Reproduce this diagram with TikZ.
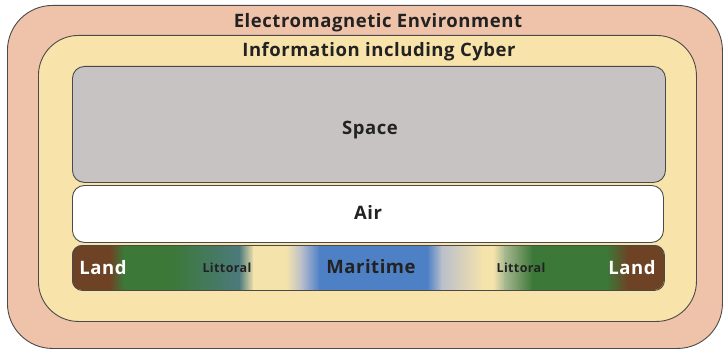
\documentclass[tikz,border=0pt]{standalone}
\usepackage{fontspec}
\setmainfont{Open Sans}
\definecolor{emcol}{HTML}{EFC2AA}
\definecolor{infocol}{HTML}{F8E3AA}
\definecolor{spacecol}{HTML}{C7C3C3}
\definecolor{edgecol}{HTML}{4A4A4A}
\definecolor{brownc}{HTML}{6E4325}
\definecolor{greenc}{HTML}{3C7838}
\definecolor{tealc}{HTML}{4C7A7C}
\definecolor{beigec}{HTML}{F5E3AC}
\definecolor{bluec}{HTML}{4E80C6}
\definecolor{greyblue}{HTML}{B9BFCB}
\definecolor{lgreen}{HTML}{A8B890}
\definecolor{txtc}{HTML}{222222}
\begin{document}
\begin{tikzpicture}[x=1pt,y=-1pt,
  frame/.style={draw=edgecol,line width=0.9pt},
  lbl/.style={font=\bfseries\fontsize{18.5}{20}\selectfont\addfontfeature{LetterSpace=3},text=txtc,inner sep=0pt,anchor=base},
  smalllbl/.style={font=\bfseries\fontsize{12.5}{14}\selectfont\addfontfeature{LetterSpace=3},text=txtc,inner sep=0pt,anchor=base},
  landlbl/.style={lbl,text=white}]
\useasboundingbox (0,0) rectangle (726,353);
% outer
\node[frame,fill=emcol,rounded corners=45pt,minimum width=715pt,minimum height=343pt,anchor=north west,inner sep=0pt] (em) at (7,5) {};
\node[frame,fill=infocol,rounded corners=40pt,minimum width=658pt,minimum height=286pt,anchor=north west,inner sep=0pt] (info) at (38,35) {};
\node[frame,fill=spacecol,rounded corners=12pt,minimum width=593pt,minimum height=116pt,anchor=north west,inner sep=0pt] (space) at (72,66) {};
\node[frame,fill=white,rounded corners=12pt,minimum width=591pt,minimum height=57pt,anchor=north west,inner sep=0pt] (air) at (72,185) {};
% strip
\begin{scope}
\clip[rounded corners=10pt] (72,245) rectangle (664,290);
\fill[brownc] (72,245) rectangle (111,290);
\shade[left color=brownc,right color=greenc] (110,245) rectangle (124,290);
\fill[greenc] (123,245) rectangle (172,290);
\shade[left color=greenc,right color=tealc] (171,245) rectangle (240,290);
\shade[left color=tealc,right color=beigec] (239,245) rectangle (254,290);
\fill[beigec] (253,245) rectangle (287,290);
\shade[left color=beigec,right color=greyblue] (286,245) rectangle (302,290);
\shade[left color=greyblue,right color=bluec] (301,245) rectangle (320,290);
\fill[bluec] (319,245) rectangle (428,290);
\shade[left color=bluec,right color=greyblue] (427,245) rectangle (442,290);
\shade[left color=greyblue,right color=beigec] (441,245) rectangle (483,290);
\fill[beigec] (482,245) rectangle (494,290);
\shade[left color=beigec,right color=lgreen] (493,245) rectangle (505,290);
\shade[left color=lgreen,right color=greenc] (504,245) rectangle (533,290);
\fill[greenc] (532,245) rectangle (608,290);
\shade[left color=greenc,right color=brownc] (607,245) rectangle (628,290);
\fill[brownc] (627,245) rectangle (664,290);
\end{scope}
\node[frame,rounded corners=10pt,minimum width=592pt,minimum height=45pt,anchor=north west,inner sep=0pt] (strip) at (72,245) {};
% labels
\node[lbl] (emlbl) at (378,28) {Electromagnetic Environment};
\node[lbl] (infolbl) at (379,57) {Information including Cyber};
\node[lbl] (spacelbl) at (370,135) {Space};
\node[lbl] (airlbl) at (368,219) {Air};
\node[landlbl] (landl) at (103,274) {Land};
\node[smalllbl] (litl) at (227,272) {Littoral};
\node[lbl] (mar) at (371,273) {Maritime};
\node[smalllbl] (litr) at (521,272) {Littoral};
\node[landlbl] (landr) at (632,274) {Land};
\end{tikzpicture}
\end{document}
